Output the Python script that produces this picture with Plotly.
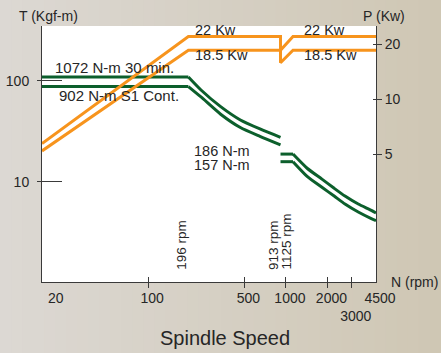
import math

import plotly.graph_objects as go


# power lines (kW) against spindle speed (rpm)
RPM_POWER = [17, 196, 913, 913, 1125, 4500]
KW_30MIN = [5.7, 22, 22, 18.5, 22, 22]
KW_CONT = [5.2, 18.5, 18.5, 15.8, 18.5, 18.5]

# torque curves (kgf-m), low gear then high gear
RPM_TORQUE_LOW = [17, 196, 242, 336, 467, 648, 913]
TQ_30MIN_LOW = [109.5, 109.5, 81.4, 55.6, 41.0, 33.4, 27.6]
TQ_CONT_LOW = [88, 88, 69.4, 46.8, 34.5, 28.2, 23.2]
RPM_TORQUE_HIGH = [913, 1125, 1424, 1824, 2238, 2681, 3345, 4161, 4500]
TQ_30MIN_HIGH = [18.8, 18.8, 13.6, 10.6, 8.6, 7.2, 6.0, 5.2, 4.9]
TQ_CONT_HIGH = [15.8, 15.8, 11.3, 8.8, 7.2, 6.0, 5.0, 4.3, 4.1]

BASE_SPEEDS = [196, 913, 1125]
X_TICKS = [20, 100, 500, 1000, 2000, 3000, 4500]
X_TICK_TEXT = ["20", "100", "500", "1000", "2000", "<br>3000", "4500"]
X_MARKS = [100, 500, 1000, 2000, 3000]
T_TICKS = [10, 100]
P_TICKS = [5, 10, 20]

GREEN = "#0c5f2c"
ORANGE = "#f7941d"
INK = "#262626"
AXIS = "#3a3a3a"
FONT = "Liberation Sans, Arial, sans-serif"

X_RANGE = [math.log10(17), math.log10(4500)]
T_RANGE = [0.004, 2.546]
P_RANGE = [-0.002, 1.40]


def _hex(c):
    return tuple(int(c[i:i + 2], 16) for i in (1, 3, 5))


def _mix(a, b, t):
    ca, cb = _hex(a), _hex(b)
    return "rgb({},{},{})".format(*[round(ca[i] + (cb[i] - ca[i]) * t) for i in range(3)])


fig = go.Figure()

# flat (constant torque) part straight, falling part smoothed
for rpm, tq_sets in [(RPM_TORQUE_LOW, (TQ_30MIN_LOW, TQ_CONT_LOW)),
                     (RPM_TORQUE_HIGH, (TQ_30MIN_HIGH, TQ_CONT_HIGH))]:
    for tq in tq_sets:
        fig.add_trace(go.Scatter(x=rpm[:2], y=tq[:2], mode="lines",
                                 line={"color": GREEN, "width": 3}))
        fig.add_trace(go.Scatter(x=rpm[1:], y=tq[1:], mode="lines",
                                 line={"color": GREEN, "width": 3, "shape": "spline", "smoothing": 0.6}))
fig.add_trace(go.Scatter(x=RPM_POWER, y=KW_30MIN, mode="lines", yaxis="y2",
                         line={"color": ORANGE, "width": 3}))
fig.add_trace(go.Scatter(x=RPM_POWER, y=KW_CONT, mode="lines", yaxis="y2",
                         line={"color": ORANGE, "width": 3}))
# empty traces so the extra tick axes get drawn
for xa, ya in [("x2", "y"), ("x3", "y"), ("x", "y3"), ("x", "y4")]:
    fig.add_trace(go.Scatter(x=[], y=[], xaxis=xa, yaxis=ya, hoverinfo="skip"))

# background gradient + white plot area
strips = 40
for i in range(strips):
    x0 = -42 / 334 + i * (441 / 334) / strips
    x1 = -42 / 334 + (i + 1) * (441 / 334) / strips + 0.002
    fig.add_shape(type="rect", xref="paper", yref="paper", x0=x0, x1=x1, y0=-0.28, y1=1.11,
                  line={"width": 0}, fillcolor=_mix("#dcd8d3", "#cfc7b4", i / (strips - 1)), layer="below")
fig.add_shape(type="rect", xref="paper", yref="paper", x0=0, x1=1, y0=0, y1=1,
              line={"width": 0}, fillcolor="white", layer="below")

for rpm in BASE_SPEEDS:
    fig.add_shape(type="line", xref="x", yref="paper", x0=math.log10(rpm), x1=math.log10(rpm), y0=0, y1=1,
                  line={"color": "#4a4a4a", "width": 1}, layer="below")
    fig.add_annotation(text=f"{rpm} rpm", xref="x", yref="paper", x=math.log10(rpm), y=0.043,
                       xanchor="right", yanchor="bottom", textangle=-90, showarrow=False, xshift=2,
                       borderpad=0, font={"size": 13.5})

labels = [
    ("1072 N-m 30 min.", "paper", 0.036, 0, 0.836, 15),
    ("902 N-m S1 Cont.", "paper", 0.048, 0, 0.7285, 15),
    ("22 Kw", "x", math.log10(196), 6, 0.986, 14.5),
    ("18.5 Kw", "x", math.log10(196), 6, 0.887, 14.5),
    ("22 Kw", "x", math.log10(1125), 10, 0.984, 14.5),
    ("18.5 Kw", "x", math.log10(1125), 10, 0.887, 14.5),
    ("186 N-m", "x", math.log10(196), 5, 0.511, 14.5),
    ("157 N-m", "x", math.log10(196), 5, 0.457, 14.5),
]
for text, xref, x, shift, y, size in labels:
    fig.add_annotation(text=text, xref=xref, yref="paper", x=x, y=y, xshift=shift, borderpad=0,
                       xanchor="left", yanchor="middle", showarrow=False, font={"size": size})

fig.add_annotation(text="T (Kgf-m)", xref="paper", yref="paper", x=-0.074, y=1.039,
                   xanchor="left", yanchor="middle", showarrow=False)
fig.add_annotation(text="P (Kw)", xref="paper", yref="paper", x=0.956, y=1.039,
                   xanchor="left", yanchor="middle", showarrow=False)
fig.add_annotation(text="N (rpm)", xref="paper", yref="paper", x=1.04, y=0.0,
                   xanchor="left", yanchor="middle", showarrow=False)
fig.add_annotation(text="Spindle Speed", xref="paper", yref="paper", x=0.548, y=-0.219,
                   xanchor="center", yanchor="middle", showarrow=False, font={"size": 20})

tick_style = {"tickcolor": AXIS, "tickwidth": 1, "showgrid": False, "zeroline": False,
              "automargin": False, "tickangle": 0}
fig.update_layout(
    width=441, height=353,
    margin={"l": 42, "r": 65, "t": 26, "b": 71},
    paper_bgcolor="#d6d0c4", plot_bgcolor="white",
    showlegend=False,
    font={"family": FONT, "size": 14, "color": INK},
    xaxis={"type": "log", "range": X_RANGE, "showline": True, "linecolor": AXIS, "linewidth": 1,
           "ticks": "outside", "ticklen": 5, "tickmode": "array", "tickvals": X_MARKS,
           "showticklabels": False, **tick_style},
    xaxis2={"type": "log", "range": X_RANGE, "overlaying": "x", "anchor": "y", "ticks": "inside",
            "ticklen": 5, "tickmode": "array", "tickvals": X_MARKS, "showticklabels": False,
            "showline": False, **tick_style},
    xaxis3={"type": "log", "range": X_RANGE, "overlaying": "x", "anchor": "y", "ticks": "",
            "tickmode": "array", "tickvals": X_TICKS, "ticktext": X_TICK_TEXT, "showline": False,
            "ticklabelstandoff": 6, "ticklabelshift": 4, **tick_style},
    yaxis={"type": "log", "range": T_RANGE, "showline": True, "linecolor": AXIS, "linewidth": 1,
           "ticks": "outside", "ticklen": 4, "tickmode": "array", "tickvals": T_TICKS,
           "ticktext": ["10", "100"], "ticklabelstandoff": 5, **tick_style},
    yaxis3={"type": "log", "range": T_RANGE, "overlaying": "y", "anchor": "x", "side": "left",
            "ticks": "inside", "ticklen": 20, "tickmode": "array", "tickvals": T_TICKS,
            "showticklabels": False, "showline": False, **tick_style},
    yaxis2={"type": "log", "range": P_RANGE, "overlaying": "y", "anchor": "x", "side": "right",
            "showline": True, "linecolor": AXIS, "linewidth": 1, "ticks": "outside", "ticklen": 5,
            "tickmode": "array", "tickvals": P_TICKS, "ticktext": ["5", "10", "20"], **tick_style},
    yaxis4={"type": "log", "range": P_RANGE, "overlaying": "y", "anchor": "x", "side": "right",
            "ticks": "inside", "ticklen": 3, "tickmode": "array", "tickvals": P_TICKS,
            "showticklabels": False, "showline": False, **tick_style},
)

# the page body has a default 8px margin; drop it so the figure fills the window
fig.write_html("out.html", config={"displayModeBar": False},
               post_script="document.body.style.margin='0';")
